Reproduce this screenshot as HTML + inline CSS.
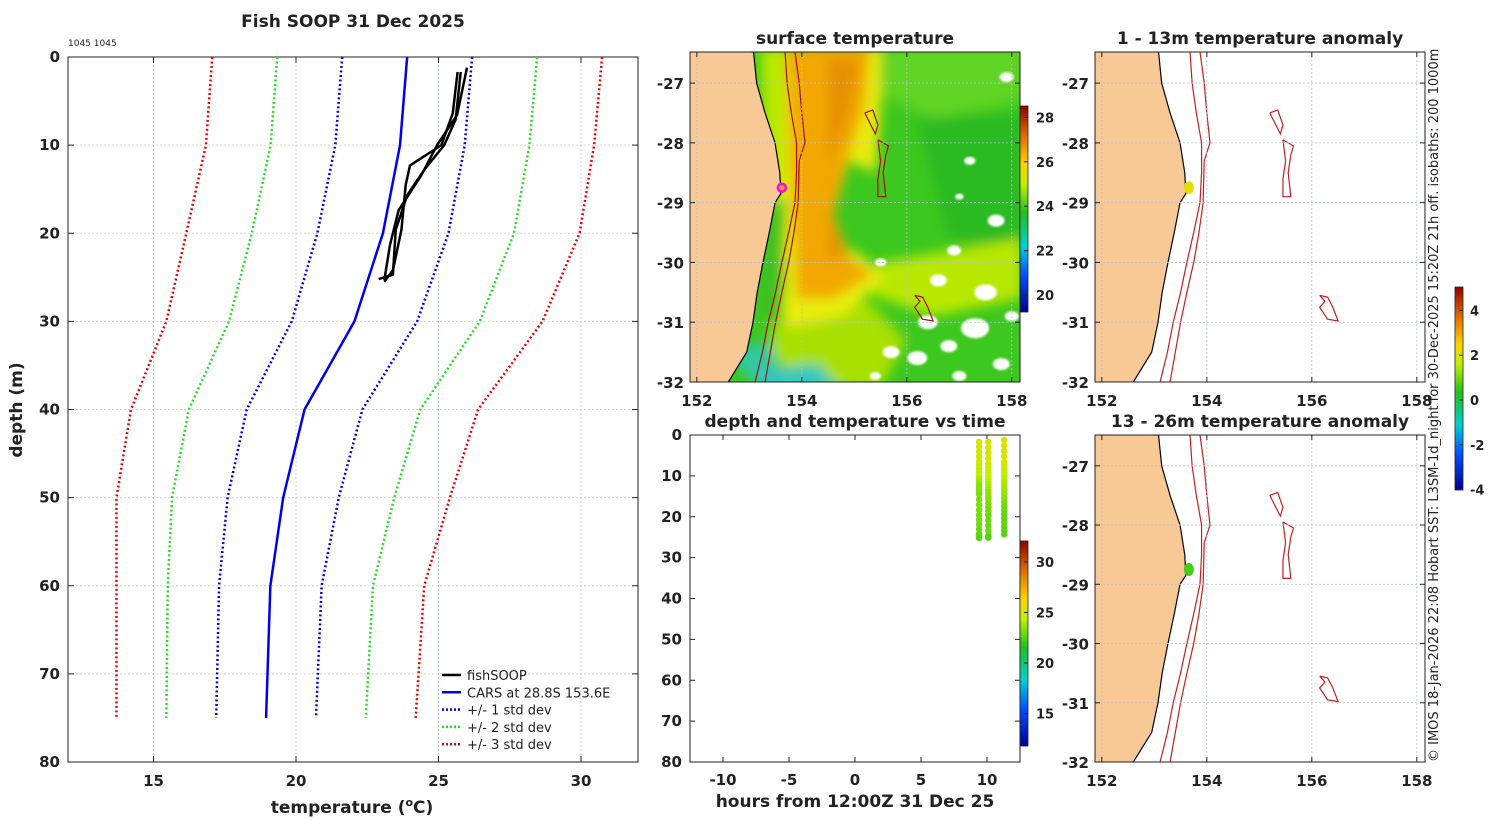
<!DOCTYPE html>
<html><head><meta charset="utf-8"><style>
body{margin:0;background:#fff}
svg{display:block;font-family:"DejaVu Sans","Liberation Sans",sans-serif}
.t{font-weight:bold;font-size:17px;fill:#222}
.tk{font-weight:bold;font-size:15px;fill:#222}
</style></head><body>
<svg id="s" width="1500" height="820" viewBox="0 0 1500 820" xmlns="http://www.w3.org/2000/svg">
<defs>
<filter id="blur" x="-10%" y="-10%" width="120%" height="120%"><feGaussianBlur stdDeviation="6"/></filter>
<filter id="blur2"><feGaussianBlur stdDeviation="1"/></filter>
<clipPath id="c1"><rect x="690" y="52" width="330" height="330"/></clipPath>
<clipPath id="c2"><rect x="1095" y="52" width="330" height="330"/></clipPath>
<clipPath id="c3"><rect x="1095" y="435" width="330" height="327"/></clipPath>
<clipPath id="c4"><rect x="690" y="435" width="330" height="327"/></clipPath>
<linearGradient id="sstbar" x1="0" y1="1" x2="0" y2="0">
<stop offset="0" stop-color="#00008f"/><stop offset="0.18" stop-color="#0050ff"/><stop offset="0.32" stop-color="#00d0d0"/><stop offset="0.48" stop-color="#20c020"/><stop offset="0.62" stop-color="#c0f000"/><stop offset="0.72" stop-color="#ffd000"/><stop offset="0.85" stop-color="#e07000"/><stop offset="1" stop-color="#900000"/></linearGradient>
</defs>
<g id="main"></g>
<g id="sst"></g>
<g id="tv"></g>
<g id="an1"></g>
<g id="an2"></g>
<text class="t" x="353" y="27" text-anchor="middle">Fish SOOP 31 Dec 2025</text>
<text x="68" y="46" font-size="9" fill="#222">1045 1045</text>
<text class="t" x="855" y="44" text-anchor="middle">surface temperature</text>
<text class="t" x="1260" y="44" text-anchor="middle">1 - 13m temperature anomaly</text>
<text class="t" x="855" y="427" text-anchor="middle">depth and temperature vs time</text>
<text class="t" x="1260" y="427" text-anchor="middle">13 - 26m temperature anomaly</text>
<text class="t" x="22" y="410" text-anchor="middle" transform="rotate(-90 22 410)">depth (m)</text>
<text class="t" x="352" y="813" text-anchor="middle">temperature (<tspan font-size="11" dy="-7">o</tspan><tspan dy="7">C)</tspan></text>
<text class="t" x="855" y="807" text-anchor="middle">hours from 12:00Z 31 Dec 25</text>
<text x="1438" y="762" font-size="13" fill="#222" transform="rotate(-90 1438 762)">© IMOS 18-Jan-2026 22:08 Hobart SST: L3SM-1d_night for 30-Dec-2025 15:20Z 21h off. isobaths: 200  1000m</text>
</svg>
<script>
// ---------- data ----------
const depths=[0,10,20,30,40,50,60,75];
const carsMean=[23.9,23.65,23.05,22.05,20.3,19.55,19.1,18.95];
const carsStd=[2.28,2.27,2.3,2.2,2.03,1.95,1.8,1.75];
const fish1Depth=[1.7,6.4,10,12.3,14.5,19.6,24.2,25.5];
const fish1Temp=[25.67,25.5,25.1,24.0,23.85,23.7,23.4,23.1];
const fish2Depth=[1.7,7.1,10,12.8,15.7,19.6,24.7,25.2];
const fish2Temp=[25.78,25.6,25.2,24.5,23.9,23.5,23.4,22.9];
const fish3Depth=[1.2,6.6,10,13.4,17.4,21.3,25.3];
const fish3Temp=[26.0,25.65,24.95,24.4,23.6,23.3,23.1];
const castHours=[9.4,10.1,11.3];
const xTicks=[15,20,25,30];
const yTicks=[0,10,20,30,40,50,60,70,80];
const hTicks=[-10,-5,0,5,10];
const lonTicks=[152,154,156,158];
const latTicks=[-27,-28,-29,-30,-31,-32];
const sstTicks=[20,22,24,26,28];
const tvTicks=[15,20,25,30];
const anomTicks=[-4,-2,0,2,4];
const coastLat=[-26.48,-27,-27.5,-28,-28.5,-28.85,-29,-29.5,-30,-30.5,-31,-31.5,-32];
const coastLon=[153.08,153.14,153.3,153.49,153.58,153.6,153.49,153.38,153.26,153.15,153.07,152.95,152.6];
const iso200Lat=[-26.48,-27,-27.5,-28,-28.5,-29,-29.5,-30,-30.5,-31,-31.5,-32];
const iso200Lon=[153.68,153.72,153.8,153.9,153.9,153.87,153.75,153.62,153.5,153.36,153.25,153.11];
const iso1000Lat=[-26.48,-27,-27.5,-28,-28.3,-29,-29.5,-30,-30.5,-31,-31.5,-32];
const iso1000Lon=[153.87,153.95,154.0,154.06,153.95,153.93,153.85,153.75,153.62,153.5,153.4,153.3];
const smA_lon=[155.2,155.35,155.45,155.4,155.2],smA_lat=[-27.5,-27.45,-27.7,-27.85,-27.5];
const smB_lon=[155.45,155.65,155.6,155.55,155.6,155.45,155.45,155.5,155.45],smB_lat=[-27.95,-28.05,-28.2,-28.5,-28.9,-28.9,-28.6,-28.3,-27.95];
const smC_lon=[156.15,156.3,156.4,156.5,156.3,156.15,156.25,156.15],smC_lat=[-30.55,-30.58,-30.75,-30.98,-30.95,-30.75,-30.65,-30.55];
const obsLon=153.62, obsLat=-28.75, obsAnom1=1.4, obsAnom2=0.1;

const NS='http://www.w3.org/2000/svg';
function mk(p,tag,at){const e=document.createElementNS(NS,tag);for(const k in at)e.setAttribute(k,at[k]);p.appendChild(e);return e;}
function txt(p,x,y,s,cls,anchor){const e=mk(p,'text',{x:x,y:y,'class':cls,'text-anchor':anchor||'middle'});e.textContent=s;return e;}

// ---------- main profile chart ----------
const M=document.getElementById('main');
const X0=68,X1=638,Y0=57,Y1=762;
const sx=t=>X0+(t-12)/20*(X1-X0), sy=d=>Y0+d/80*(Y1-Y0);
xTicks.forEach(t=>{const l=mk(M,'line',{x1:sx(t),x2:sx(t),y1:Y0,y2:Y1,stroke:'#c8d0e8','stroke-dasharray':'2 2'});


mk(M,'line',{x1:sx(t),x2:sx(t),y1:Y1,y2:Y1-6,stroke:'#222'});mk(M,'line',{x1:sx(t),x2:sx(t),y1:Y0,y2:Y0+6,stroke:'#222'});
const tt=txt(M,sx(t),Y1+24,String(t),'tk');

});
yTicks.forEach(d=>{if(d>0&&d<80){const l=mk(M,'line',{x1:X0,x2:X1,y1:sy(d),y2:sy(d),stroke:'#e8cfb0','stroke-dasharray':'2 2'});

}
mk(M,'line',{x1:X0,x2:X0+6,y1:sy(d),y2:sy(d),stroke:'#222'});mk(M,'line',{x1:X1,x2:X1-6,y1:sy(d),y2:sy(d),stroke:'#222'});
const tt=txt(M,X0-8,sy(d)+5,String(d),'tk','end');

});
const fr=mk(M,'rect',{x:X0,y:Y0,width:X1-X0,height:Y1-Y0,fill:'none',stroke:'#222'});


function pl(xs,ds,col,w,dash,name){const pts=xs.map((t,i)=>sx(t)+','+sy(ds[i])).join(' ');
const e=mk(M,'polyline',{points:pts,fill:'none',stroke:col,'stroke-width':w,'stroke-dasharray':dash||'none','stroke-linejoin':'round'});

}
const sdCols=['#0000ee','#22dd22','#ee0000'];
[1,2,3].forEach(k=>{
pl(carsMean.map((m,i)=>m-k*carsStd[i]),depths,sdCols[k-1],2.5,'2 2.5','std-dev-'+k+'-lower');
pl(carsMean.map((m,i)=>m+k*carsStd[i]),depths,sdCols[k-1],2.5,'2 2.5','std-dev-'+k+'-upper');});
pl(carsMean,depths,'#0000ee',2.5,null,'cars-mean-line');
pl(fish1Temp,fish1Depth,'#000',2.5,null,'fishsoop-profile-1');
pl(fish2Temp,fish2Depth,'#000',2.5,null,'fishsoop-profile-2');
pl(fish3Temp,fish3Depth,'#000',2.5,null,'fishsoop-profile-3');
const legItems=[['fishSOOP','#000',null],['CARS at 28.8S 153.6E','#0000ee',null],['+/- 1 std dev','#0000ee','2 2'],['+/- 2 std dev','#22dd22','2 2'],['+/- 3 std dev','#ee0000','2 2']];
legItems.forEach((it,i)=>{const y=675+i*17.3;
const g=mk(M,'g',{});


mk(g,'line',{x1:442,x2:461,y1:y,y2:y,stroke:it[1],'stroke-width':2.5,'stroke-dasharray':it[2]||'none'});
const t=mk(g,'text',{x:467,y:y+5,'font-size':13,fill:'#222'});t.textContent=it[0];});

// ---------- map helpers ----------
function mapAxes(G,ax,ay,h,latTop){
const lx=lon=>ax+(lon-151.87)*52.5, ly=lat=>ay+(latTop-lat)*(h/5.52);
return {lx,ly};}
function drawMapFrame(G,ax,ay,w,h,ly,lx){
latTicks.forEach(la=>{const y=ly(la);if(y>ay&&y<ay+h){const l=mk(G,'line',{x1:ax,x2:ax+w,y1:y,y2:y,stroke:'#b8bfe0','stroke-dasharray':'2 2','stroke-width':0.8});

}
mk(G,'line',{x1:ax,x2:ax+5,y1:y,y2:y,stroke:'#222'});mk(G,'line',{x1:ax+w,x2:ax+w-5,y1:y,y2:y,stroke:'#222'});
const t=txt(G,ax-6,y+6,String(la),'tk','end');

});
lonTicks.forEach(lo=>{const x=lx(lo);if(x>ax+2&&x<ax+w){const l=mk(G,'line',{x1:x,x2:x,y1:ay,y2:ay+h,stroke:'#b8bfe0','stroke-dasharray':'2 2','stroke-width':0.8});

}
mk(G,'line',{x1:x,x2:x,y1:ay+h,y2:ay+h-5,stroke:'#222'});mk(G,'line',{x1:x,x2:x,y1:ay,y2:ay+5,stroke:'#222'});
const t=txt(G,x,ay+h+24,String(lo),'tk');

});
mk(G,'rect',{x:ax,y:ay,width:w,height:h,fill:'none',stroke:'#222'});}
function poly(lons,lats,lx,ly){return lons.map((lo,i)=>lx(lo)+','+ly(lats[i])).join(' ');}
function drawCoastIso(G,lx,ly,ax,ay,h,landCol,isoCol){
const land=poly(coastLon,coastLat,lx,ly)+' '+(ax-2)+','+(ay+h+2)+' '+(ax-2)+','+(ay-2);
const l=mk(G,'polygon',{points:land,fill:landCol,stroke:'#000','stroke-width':1.2});


[[iso200Lon,iso200Lat,'isobath-200m'],[iso1000Lon,iso1000Lat,'isobath-1000m'],[smA_lon,smA_lat,'seamount-contour'],[smB_lon,smB_lat,'seamount-contour'],[smC_lon,smC_lat,'seamount-contour']].forEach(a=>{
const e=mk(G,'polyline',{points:poly(a[0],a[1],lx,ly),fill:'none',stroke:isoCol,'stroke-width':1.2});

});}

// ---------- SST map ----------
const S=document.getElementById('sst');
{const ax=690,ay=52,w=330,h=330;const {lx,ly}=mapAxes(S,ax,ay,h,-26.48);
const g=mk(S,'g',{'clip-path':'url(#c1)'});
mk(g,'rect',{x:ax,y:ay,width:w,height:h,fill:'#3cc81e'});
const bg=mk(g,'g',{filter:'url(#blur)'});
const shapes=[
['#60d420',[155.4,158.2,158.2,156.5,155.5],[-26.4,-26.4,-27.3,-27.6,-27.2]],
['#2aba20',[156.2,158.2,158.2,156.8],[-27.6,-27.5,-29.8,-29.6]],
['#b8e800',[155.5,158.2,158.2,156.5,155.2],[-30.0,-29.6,-30.6,-30.9,-30.5]],
['#a8e000',[153.5,155.2,156.0,155.5,154.0,153.4],[-30.5,-30.6,-31.3,-32.1,-32.1,-31.5]],
['#e8ec10',[153.55,155.5,155.5,155.4,154.9,154.6,154.8,155.0,155.6,154.8,153.7],[-26.4,-26.4,-27.5,-28.5,-28.3,-29.2,-29.8,-29.8,-30.2,-30.9,-31.1]],
['#f2a800',[153.7,155.3,155.2,154.9,154.6,154.9,155.35,154.6,153.9],[-26.4,-26.4,-27.4,-28.2,-29.2,-29.9,-30.2,-30.6,-30.6]],
['#e69000',[154.5,155.1,154.9,154.45,154.55,154.8,154.5],[-26.6,-26.6,-27.5,-28.5,-29.3,-29.9,-29.9]],
['#30c8a0',[152.5,153.4,153.7,153.3],[-31.5,-31.3,-32.2,-32.2]],
['#30c8c0',[152.9,154.3,154.8,153.5],[-31.85,-31.7,-32.2,-32.2]],
['#b8e800',[153.2,153.7,153.65,153.3],[-26.4,-26.4,-29.0,-29.0]],
['#40c020',[153.4,153.7,153.6,153.2],[-29.0,-29.0,-31.0,-31.0]]];
shapes.forEach(s=>{const e=mk(bg,'polygon',{points:poly(s[1],s[2],lx,ly),fill:s[0]});

});
const whites=[[157.9,-26.9,5],[157.0,-28.9,3],[157.7,-29.3,6],[155.5,-30.0,4],[156.6,-30.3,6],[157.5,-30.5,8],[156.4,-31.0,7],[157.3,-31.1,10],[155.7,-31.5,6],[156.2,-31.6,7],[157.8,-31.7,6],[157.0,-31.9,5],[155.4,-31.9,4],[157.2,-28.3,4],[156.9,-29.8,5],[158.0,-30.9,5],[156.8,-31.4,6]];
whites.forEach(c=>{const e=mk(g,'ellipse',{cx:lx(c[0]),cy:ly(c[1]),rx:c[2]*1.4,ry:c[2],fill:'#fff',filter:'url(#blur2)'});

});
drawCoastIso(g,lx,ly,ax,ay,h,'#f8c895','#a01010');
const o=mk(g,'circle',{cx:lx(obsLon),cy:ly(obsLat),r:4,fill:'#f0a000',stroke:'#ff00ff','stroke-width':2.5});


drawMapFrame(S,ax,ay,w,h,ly,lx);
const cb=mk(S,'rect',{x:1020,y:106,width:8,height:206,fill:'url(#sstbar)',stroke:'#222','stroke-width':0.8});


const cy=v=>295-(v-20)*22.2;
sstTicks.forEach(v=>{mk(S,'line',{x1:1024,x2:1028,y1:cy(v),y2:cy(v),stroke:'#222'});
const t=mk(S,'text',{x:1036,y:cy(v)+5,'font-size':13,'font-weight':'bold',fill:'#222'});t.textContent=v;

});}

// ---------- depth vs time ----------
const T=document.getElementById('tv');
function tcol(v){const f=Math.max(0,Math.min(1,(v-12)/21));
const stops=[[0,[0,0,143]],[0.18,[0,80,255]],[0.32,[0,208,208]],[0.48,[32,192,32]],[0.62,[192,240,0]],[0.72,[255,208,0]],[0.85,[224,112,0]],[1,[144,0,0]]];
for(let i=1;i<stops.length;i++){if(f<=stops[i][0]){const a=stops[i-1],b=stops[i],u=(f-a[0])/(b[0]-a[0]);return 'rgb('+a[1].map((c,k)=>Math.round(c+(b[1][k]-c)*u)).join(',')+')';}}return 'rgb(144,0,0)';}
{const ax=690,ay=435,w=330,h=327;
const hx=v=>ax+(v+12.5)/25*w, dy=d=>ay+d/80*h;
hTicks.forEach(v=>{mk(T,'line',{x1:hx(v),x2:hx(v),y1:ay+h,y2:ay+h-5,stroke:'#222'});mk(T,'line',{x1:hx(v),x2:hx(v),y1:ay,y2:ay+5,stroke:'#222'});
const t=txt(T,hx(v),ay+h+23,String(v),'tk');

});
yTicks.forEach(d=>{mk(T,'line',{x1:ax,x2:ax+5,y1:dy(d),y2:dy(d),stroke:'#222'});mk(T,'line',{x1:ax+w,x2:ax+w-5,y1:dy(d),y2:dy(d),stroke:'#222'});
const t=txt(T,ax-8,dy(d)+5,String(d),'tk','end');

});
mk(T,'rect',{x:ax,y:ay,width:w,height:h,fill:'none',stroke:'#222'});
const casts=[[fish1Depth,fish1Temp],[fish2Depth,fish2Temp],[fish3Depth,fish3Temp]];
const gg=mk(T,'g',{'clip-path':'url(#c4)'});
casts.forEach((c,ci)=>{const ds=c[0],ts=c[1];
for(let j=0;j<ds.length-1;j++){for(let k=0;k<4;k++){const u=k/4;const d=ds[j]+(ds[j+1]-ds[j])*u,tv=ts[j]+(ts[j+1]-ts[j])*u;
const e=mk(gg,'circle',{cx:hx(castHours[ci]),cy:dy(d),r:3.3,fill:tcol(tv)});

}}});
const cb=mk(T,'rect',{x:1020,y:541,width:8,height:205,fill:'url(#sstbar)',stroke:'#222','stroke-width':0.8});


const cy=v=>663-(v-20)*10.1;
tvTicks.forEach(v=>{mk(T,'line',{x1:1024,x2:1028,y1:cy(v),y2:cy(v),stroke:'#222'});
const t=mk(T,'text',{x:1036,y:cy(v)+5,'font-size':13,'font-weight':'bold',fill:'#222'});t.textContent=v;

});}

// ---------- anomaly maps ----------
function acol(v){const f=Math.max(0,Math.min(1,(v+4)/8));return tcol(12+f*21);}
function anomMap(G,ay,h,clip,val){const ax=1095,w=330;
const lx=lon=>ax+(lon-151.87)*52.5, ly=lat=>ay+(-26.48-lat)*(h/5.52);
const g=mk(G,'g',{'clip-path':'url(#'+clip+')'});
drawCoastIso(g,lx,ly,ax,ay,h,'#f8c895','#c02020');
const o=mk(g,'ellipse',{cx:lx(obsLon)+2,cy:ly(obsLat),rx:5,ry:6.5,fill:acol(val)});


drawMapFrame(G,ax,ay,w,h,ly,lx);}
anomMap(document.getElementById('an1'),52,330,'c2',obsAnom1);
anomMap(document.getElementById('an2'),435,327,'c3',obsAnom2);
{const S2=document.getElementById('an1');
const cb=mk(S2,'rect',{x:1455,y:287,width:8,height:203,fill:'url(#sstbar)',stroke:'#222','stroke-width':0.8});


const cy=v=>400-v*22.4;
anomTicks.forEach(v=>{mk(S2,'line',{x1:1459,x2:1463,y1:cy(v),y2:cy(v),stroke:'#222'});
const t=mk(S2,'text',{x:1470,y:cy(v)+5,'font-size':13,'font-weight':'bold',fill:'#222'});t.textContent=v;

});}
</script>
</body></html>
